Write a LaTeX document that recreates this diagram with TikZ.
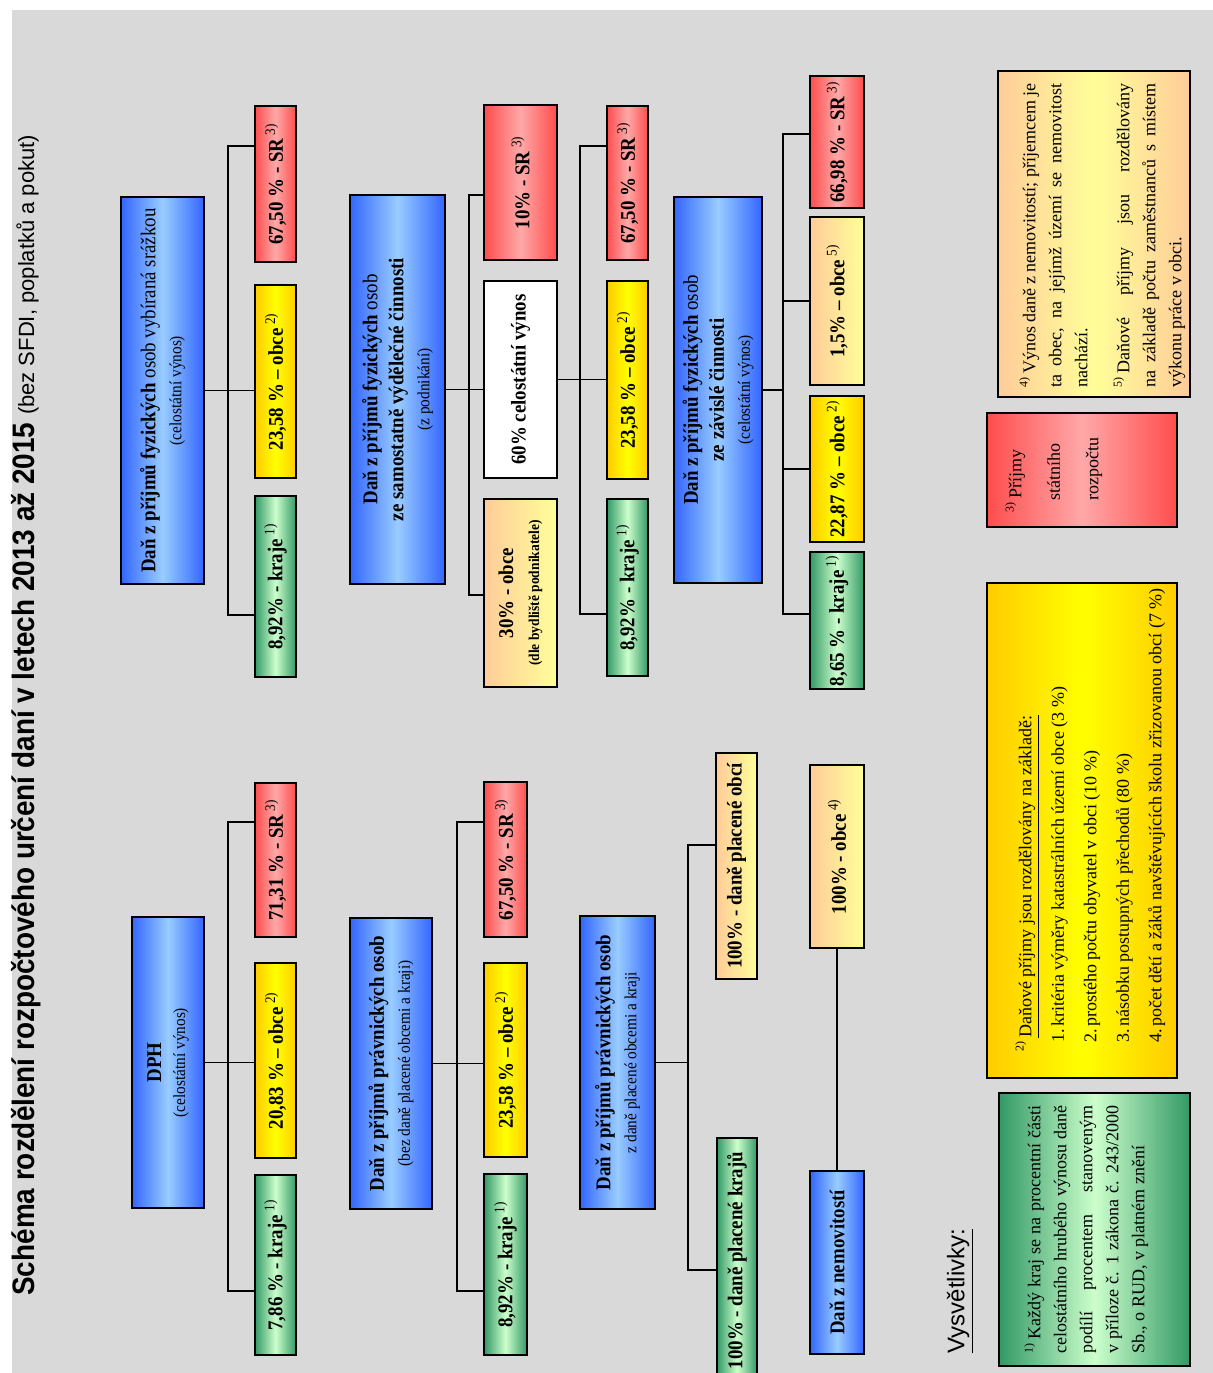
\documentclass[tikz,border=0pt]{standalone}
\usepackage{fontspec}
\setmainfont{Liberation Serif}
\newfontfamily\titlefont{Liberation Sans}
\newfontfamily\titlefontN[FakeStretch=0.9]{Liberation Sans}
\newfontfamily\boxfont[FakeStretch=0.9]{Liberation Serif}
\usetikzlibrary{calc}
\definecolor{bgc}{HTML}{D9D9D9}
\definecolor{bEdge}{HTML}{3366FF}
\definecolor{bMid}{HTML}{99CCFF}
\definecolor{rEdge}{HTML}{FF4D4D}
\definecolor{rMid}{HTML}{FFA8A8}
\definecolor{yEdge}{HTML}{FFCC00}
\definecolor{yMid}{HTML}{FFFF00}
\definecolor{gEdge}{HTML}{339966}
\definecolor{gMid}{HTML}{CCFFCC}
\definecolor{pEdge}{HTML}{FFCC99}
\definecolor{pMid}{HTML}{FFFF99}
\newcommand\supx[1]{\textsuperscript{\mdseries #1}}
\newcommand\jl[1]{{\parfillskip=0pt\relax #1\par}}
\tikzset{
 every node/.style={rotate=90,inner sep=0pt,align=center},
 sz/.style 2 args={minimum width=#1*0.5pt,minimum height=#2*0.5pt},
 bx/.style={draw=black,line width=0.9pt,font=\boxfont\fontsize{10.5}{13}\selectfont\bfseries},
 bluebox/.style={bx,left color=bEdge,right color=bEdge,middle color=bMid},
 redbox/.style={bx,left color=rEdge,right color=rEdge,middle color=rMid},
 yelbox/.style={bx,left color=yEdge,right color=yEdge,middle color=yMid},
 grnbox/.style={bx,left color=gEdge,right color=gEdge,middle color=gMid},
 pchbox/.style={bx,left color=pEdge,right color=pMid},
 pchsym/.style={bx,left color=pEdge,right color=pEdge,middle color=pMid},
 whtbox/.style={bx,fill=white},
 legtxt/.style={anchor=north west,align=left,font=\fontsize{9}{13}\selectfont},
 legpar/.style={anchor=north west,align=justify,font=\fontsize{9}{13}\selectfont},
 conn/.style={line width=0.9pt}
}
\begin{document}
\begin{tikzpicture}[x=0.5pt,y=-0.5pt]
\useasboundingbox (0,0) rectangle (1213,1373);
\fill[white] (0,0) rectangle (1213,1373);
\fill[bgc] (12,10) rectangle (1213,1373);
\clip (0,0) rectangle (1213,1373);

% title
\node[anchor=base west,font=\titlefontN\bfseries\fontsize{15.5}{18}\selectfont] (title) at (34,1296)
 {Schéma rozdělení rozpočtového určení daní v letech 2013 až 2015 {\titlefont\mdseries\fontsize{11}{13}\selectfont(bez SFDI, poplatků a pokut)}};

% bus coordinates
\coordinate (abus) at (228,1062.5);
\coordinate (bbus) at (457,1063.5);
\coordinate (cbus) at (688,1062.5);
\coordinate (ebus) at (228,390);
\coordinate (fbus) at (469,389.5);
\coordinate (gbus) at (580,380);
\coordinate (hbus) at (783,390);

% cluster A: DPH
\node[bluebox,sz={291}{72}] (dph) at (168,1062.5) {DPH\\[-1pt]{\mdseries\fontsize{8.5}{10}\selectfont(celostátní výnos)}};
\node[redbox,sz={154}{41}] (aR) at (275.5,860) {71,31 \% - SR\,\supx{3)}};
\node[yelbox,sz={195}{41}] (aY) at (275.5,1060.5) {20,83 \% – obce\,\supx{2)}};
\node[grnbox,sz={180}{41}] (aG) at (275.5,1265) {7,86 \% - kraje\,\supx{1)}};

% cluster B
\node[bluebox,sz={291}{82}] (bP) at (391,1063.5) {Daň z příjmů právnických osob\\{\mdseries\fontsize{8.5}{10}\selectfont(bez daně placené obcemi a kraji)}};
\node[redbox,sz={155}{43}] (bR) at (505.5,859.5) {67,50 \% - SR\,\supx{3)}};
\node[yelbox,sz={194}{43}] (bY) at (505.5,1060) {23,58 \% – obce\,\supx{2)}};
\node[grnbox,sz={181}{43}] (bG) at (505.5,1264.5) {8,92\% - kraje\,\supx{1)}};

% cluster C
\node[bluebox,sz={293}{75}] (cP) at (617.5,1062.5) {Daň z příjmů právnických osob\\{\mdseries\fontsize{8.5}{10}\selectfont z daně placené obcemi a kraji}};
\node[pchbox,sz={226}{41}] (cO) at (736.5,866) {100\% - daně placené obcí};
\node[grnbox,sz={245}{40}] (cK) at (737,1260.5) {100\% - daně placené krajů};
\node[pchbox,sz={183}{54}] (dO) at (837,856.5) {100\% - obce\,\supx{4)}};
\node[bluebox,sz={183}{54}] (dN) at (837,1262.5) {Daň z nemovitostí};

% cluster D
\node[bluebox,sz={387}{83}] (eP) at (162.5,390.5) {Daň z příjmů fyzických {\mdseries osob vybíraná srážkou}\\{\mdseries\fontsize{8.5}{10}\selectfont(celostátní výnos)}};
\node[redbox,sz={156}{41}] (eR) at (275.5,184) {67,50 \% - SR\,\supx{3)}};
\node[yelbox,sz={193}{41}] (eY) at (275.5,381.5) {23,58 \% – obce\,\supx{2)}};
\node[grnbox,sz={181}{41}] (eG) at (275.5,586.5) {8,92\% - kraje\,\supx{1)}};

% cluster E
\node[bluebox,sz={389}{95}] (fP) at (397.5,389.5) {Daň z příjmů fyzických {\mdseries osob}\\ze samostatně výdělečné činnosti\\{\mdseries\fontsize{8.5}{10}\selectfont(z podnikání)}};
\node[redbox,sz={155}{73}] (fR) at (520.5,182.5) {10\% - SR\,\supx{3)}};
\node[whtbox,sz={197}{73}] (fW) at (520.5,379.5) {60\% celostátní výnos};
\node[pchbox,sz={188}{73}] (fO) at (520.5,593) {30\% - obce\\{\fontsize{7.5}{9}\selectfont(dle bydliště podnikatele)}};

% cluster F
\node[redbox,sz={154}{41}] (gR) at (627.5,183) {67,50 \% - SR\,\supx{3)}};
\node[yelbox,sz={198}{41}] (gY) at (627.5,380) {23,58 \% – obce\,\supx{2)}};
\node[grnbox,sz={177}{41}] (gG) at (627.5,587.5) {8,92\% - kraje\,\supx{1)}};

% cluster G
\node[bluebox,sz={386}{88}] (hP) at (718,390) {Daň z příjmů fyzických {\mdseries osob}\\ze závislé činnosti\\{\mdseries\fontsize{8.5}{10}\selectfont(celostátní výnos)}};
\node[redbox,sz={132}{54}] (hR) at (837,142) {66,98 \% - SR\,\supx{3)}};
\node[pchbox,sz={168}{54}] (hO) at (837,301) {1,5\% – obce\,\supx{5)}};
\node[yelbox,sz={146}{54}] (hY) at (837,469) {22,87 \% – obce\,\supx{2)}};
\node[grnbox,sz={137}{54}] (hG) at (837,620.5) {8,65 \% - kraje\,\supx{1)}};

% connectors
\begin{scope}[conn]
\draw (dph.south) -- (dph.south -| aY.north);
\draw ([yshift=19pt]aR.north) -| (abus) |- ([yshift=-13pt]aG.north);
\draw (bP.south) -- (bP.south -| bY.north);
\draw ([yshift=18.75pt]bR.north) -| (bbus) |- ([yshift=-13.25pt]bG.north);
\draw (cP.south) -- (cbus);
\draw ([yshift=10.5pt]cO.north) -| (cbus) |- ([yshift=-4.75pt]cK.north);
\draw (dO.west) -- (dN.east);
\draw (eP.south) -- (eP.south -| eY.north);
\draw ([yshift=19pt]eR.north) -| (ebus) |- ([yshift=-14.25pt]eG.north);
\draw (fP.south) -- (fP.south -| fW.north);
\draw ([yshift=-6.25pt]fR.north) -| (fbus) |- ([yshift=-1pt]fO.north);
\draw (fW.south) -- (fW.south -| gY.north);
\draw ([yshift=18.5pt]gR.north) -| (gbus) |- ([yshift=-13.25pt]gG.north);
\draw (hP.south) -- (hbus);
\draw ([yshift=4pt]hR.north) -| (hbus) |- ([yshift=3.25pt]hG.north);
\draw (hO.north) -- (hO.north -| hbus);
\draw (hY.north) -- (hY.north -| hbus);
\end{scope}

% legend
\node[anchor=center,font=\titlefont\fontsize{12}{14}\selectfont] (vys) at (960,1291) {\underline{Vysvětlivky:}};

\node[grnbox,sz={273}{191}] (lg1) at (1094.5,1229.5) {};
\node[legpar,text width=124pt] (lg1t) at (1024,1354)
 {\jl{\supx{1)}\,Každý kraj se na procentní části}
  \jl{celostátního hrubého výnosu daně}
  \jl{podílí procentem stanoveným}
  \jl{v příloze č. 1 zákona č. 243/2000}
  Sb., o RUD, v platném znění\par};

\node[yelbox,sz={495}{190}] (lg2) at (1082,830.5) {};
\node[legtxt,font=\fontsize{9}{16.25}\selectfont] (lg2t) at (1015,1052)
 {\supx{2)}\,\underline{Daňové příjmy jsou rozdělovány na základě:}\\
  \hspace*{4.5pt}\makebox[8pt][l]{1.}kritéria výměry katastrálních území obce (3 \%)\\
  \hspace*{4.5pt}\makebox[8pt][l]{2.}prostého počtu obyvatel v obci (10 \%)\\
  \hspace*{4.5pt}\makebox[8pt][l]{3.}násobku postupných přechodů (80 \%)\\
  \hspace*{4.5pt}\makebox[8pt][l]{4.}počet dětí a žáků navštěvujících školu zřizovanou obcí (7 \%)};

\node[redbox,sz={114}{190}] (lg3) at (1082,470) {};
\node[legtxt,font=\fontsize{9}{19.25}\selectfont] (lg3t) at (1005,513)
 {\supx{3)}\,Příjmy\\
  \hspace*{6pt}státního\\
  \hspace*{6pt}rozpočtu};

\node[pchsym,sz={326}{192}] (lg4) at (1094,234) {};
\node[legpar,text width=152pt] (lg4t) at (1019,388)
 {\jl{\supx{4)}\,Výnos daně z nemovitostí; příjemcem je}
  \jl{ta obec, na jejímž území se nemovitost}
  nachází.\par\vspace{8pt}
  \jl{\supx{5)}\,Daňové příjmy jsou rozdělovány}
  \jl{na základě počtu zaměstnanců s místem}
  výkonu práce v obci.\par};
\end{tikzpicture}
\end{document}
